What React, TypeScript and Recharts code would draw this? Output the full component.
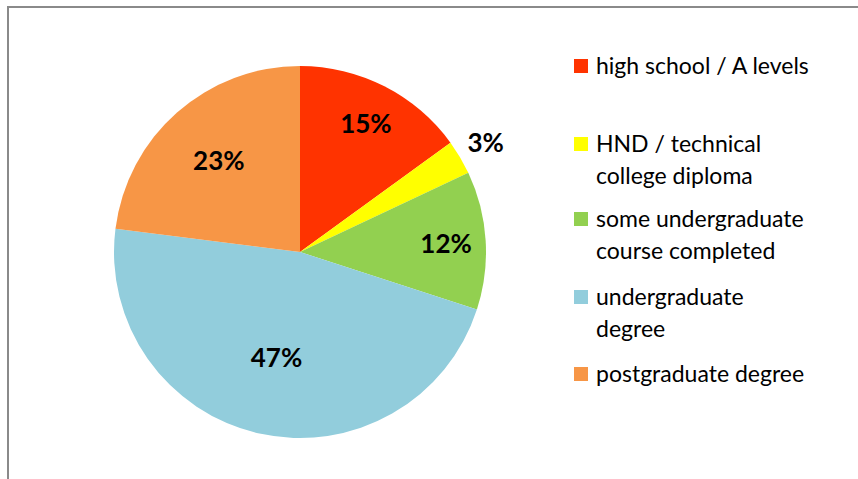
import React from 'react';
import { PieChart, Pie, Cell, Legend } from 'recharts';

const categories = [
  'high school / A levels',
  'HND / technical college diploma',
  'some undergraduate course completed',
  'undergraduate degree',
  'postgraduate degree',
];
const values = [15, 3, 12, 47, 23];
const colors = ['#FF3300', '#FFFF00', '#92D050', '#92CDDC', '#F79646'];
const legendLines = [
  ['high school / A levels'],
  ['HND / technical', 'college diploma'],
  ['some undergraduate', 'course completed'],
  ['undergraduate', 'degree'],
  ['postgraduate degree'],
];

const data = categories.map((name, i) => ({ name, value: values[i], color: colors[i] }));

const FONT = 'Lato, "Open Sans", "DejaVu Sans", sans-serif';
const labelRadiusFactor = [0.78, 1.16, 0.787, 0.58, 0.66];
const RAD = Math.PI / 180;

const renderLabel = (props: any) => {
  const { cx, cy, midAngle, outerRadius, index, percent } = props;
  const r = outerRadius * labelRadiusFactor[index];
  const x = cx + r * Math.cos(-midAngle * RAD);
  const y = cy + r * Math.sin(-midAngle * RAD);
  return (
    <text
      x={x}
      y={y}
      textAnchor="middle"
      dominantBaseline="central"
      fontFamily={FONT}
      fontWeight="bold"
      fontSize={26}
      fill="#000"
    >
      {`${Math.round(percent * 100)}%`}
    </text>
  );
};

// centre y of the first line of each legend entry
const legendCenters = [66, 144, 219, 297, 374];
const LINE_H = 31.5;

const renderLegend = () => (
  <div style={{ position: 'relative', width: 280, height: 479, fontFamily: FONT }}>
    {data.map((d, i) => (
      <div key={d.name} style={{ position: 'absolute', left: 0, top: legendCenters[i] - LINE_H / 2 }}>
        <div
          style={{
            position: 'absolute',
            left: 0,
            top: LINE_H / 2 - 7,
            width: 14,
            height: 14,
            background: d.color,
          }}
        />
        <div style={{ position: 'absolute', left: 22, top: 0, fontSize: 23, color: '#000', whiteSpace: 'nowrap' }}>
          {legendLines[i].map((l, j) => (
            <div key={j} style={{ height: LINE_H, lineHeight: `${LINE_H}px` }}>{l}</div>
          ))}
        </div>
      </div>
    ))}
  </div>
);

export default function App() {
  return (
    <div style={{ position: 'absolute', left: 0, top: 0, width: 858, height: 479, background: '#fff' }}>
      <div
        style={{
          position: 'absolute',
          left: 7,
          top: 6,
          width: 851,
          height: 473,
          borderTop: '2px solid #8a8a8a',
          borderLeft: '2px solid #8a8a8a',
          boxSizing: 'border-box',
        }}
      />
      <PieChart
        width={858}
        height={479}
        margin={{ top: 0, right: 0, bottom: 0, left: 0 }}
        style={{ position: 'absolute', left: 0, top: 0 }}
      >
        <Pie
          data={data}
          dataKey="value"
          nameKey="name"
          cx={300}
          cy={252}
          outerRadius={186}
          startAngle={90}
          endAngle={-270}
          stroke="none"
          label={renderLabel}
          labelLine={false}
          isAnimationActive={false}
        >
          {data.map((d) => (
            <Cell key={d.name} fill={d.color} />
          ))}
        </Pie>
        <Legend
          layout="vertical"
          verticalAlign="top"
          align="right"
          content={renderLegend}
          wrapperStyle={{ position: 'absolute', left: 574, top: 0, width: 280, height: 479 }}
        />
      </PieChart>
    </div>
  );
}
